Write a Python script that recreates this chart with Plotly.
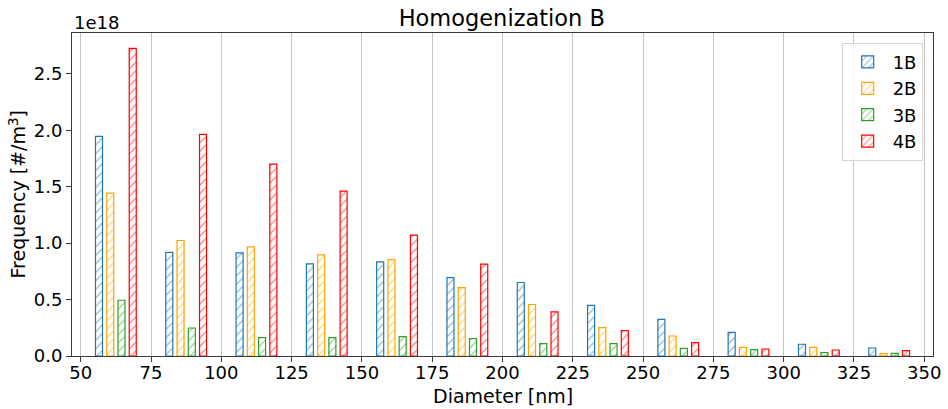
import plotly.graph_objects as go

# Bin centres of the diameter histogram [nm]
diameters = [62.5, 87.5, 112.5, 137.5, 162.5, 187.5, 212.5, 237.5, 262.5, 287.5, 312.5, 337.5]

# Number concentration per bin, in units of 1e18 #/m^3
freq_1b = [1.945, 0.917, 0.913, 0.816, 0.833, 0.695, 0.651, 0.449, 0.325, 0.210, 0.104, 0.071]
freq_2b = [1.442, 1.023, 0.966, 0.895, 0.854, 0.606, 0.456, 0.252, 0.177, 0.077, 0.077, 0.021]
freq_3b = [0.494, 0.248, 0.163, 0.163, 0.172, 0.154, 0.110, 0.110, 0.068, 0.057, 0.030, 0.024]
freq_4b = [2.725, 1.963, 1.700, 1.460, 1.070, 0.813, 0.390, 0.225, 0.119, 0.062, 0.053, 0.048]

series_names = ["1B", "2B", "3B", "4B"]
series_values = [freq_1b, freq_2b, freq_3b, freq_4b]
series_colors = ["#1f77b4", "#ffa500", "#2ca02c", "#ff0000"]

x_ticks = [50, 75, 100, 125, 150, 175, 200, 225, 250, 275, 300, 325, 350]
y_ticks = [0.0, 0.5, 1.0, 1.5, 2.0, 2.5]

FONT = "DejaVu Sans"

fig = go.Figure()
for name, vals, col in zip(series_names, series_values, series_colors):
    fig.add_trace(go.Bar(
        x=diameters, y=vals, name=name,
        marker=dict(
            color="white",
            line=dict(color=col, width=1.2),
            pattern=dict(shape="/", fgcolor=col, bgcolor="white",
                         size=6, solidity=0.22, fillmode="overlay"),
        ),
    ))

axis_common = dict(
    showline=True, linecolor="#3a3a3a", linewidth=1, mirror=True,
    ticks="outside", ticklen=5, tickwidth=1, tickcolor="#3a3a3a",
    tickfont=dict(family=FONT, size=18, color="black"),
    zeroline=False, automargin=False,
)

fig.update_layout(
    width=948, height=409,
    margin=dict(l=72, r=15, t=33, b=53),
    paper_bgcolor="white", plot_bgcolor="white",
    barmode="group", bargap=0.36, bargroupgap=0.375,
    font=dict(family=FONT, color="black"),
    title=dict(text="Homogenization B", x=0.5293, xanchor="center",
               y=0.956, yref="container", yanchor="middle",
               font=dict(family=FONT, size=22.5, color="black")),
    xaxis=dict(range=[46.9, 353.1], tickvals=x_ticks,
               showgrid=True, gridcolor="#c4c4c4", gridwidth=1,
               ticklabelstandoff=-5,
               **axis_common),
    yaxis=dict(range=[0, 2.861], tickvals=y_ticks,
               ticktext=[f"{v:.1f}" for v in y_ticks],
               showgrid=False,
               **axis_common),
    legend=dict(x=0.988, xanchor="right", y=0.97, yanchor="top",
                bgcolor="rgba(255,255,255,0.85)", bordercolor="#d6d6d6",
                borderwidth=1, font=dict(family=FONT, size=18, color="black"),
                itemwidth=40),
    annotations=[
        dict(text="1e18", xref="paper", yref="paper", x=0, y=1,
             xanchor="left", yanchor="bottom", yshift=-2, showarrow=False,
             font=dict(family=FONT, size=18, color="black")),
        dict(text="Diameter [nm]", xref="paper", yref="paper", x=0.5, y=0,
             xanchor="center", yanchor="top", yshift=-27, showarrow=False,
             font=dict(family=FONT, size=19, color="black")),
        dict(text="Frequency [#/m<sup>3</sup>]", xref="paper", yref="paper",
             x=0, y=0.5, xanchor="center", yanchor="middle", xshift=-55,
             textangle=-90, showarrow=False,
             font=dict(family=FONT, size=19, color="black")),
    ],
)

fig.write_html("out.html")
